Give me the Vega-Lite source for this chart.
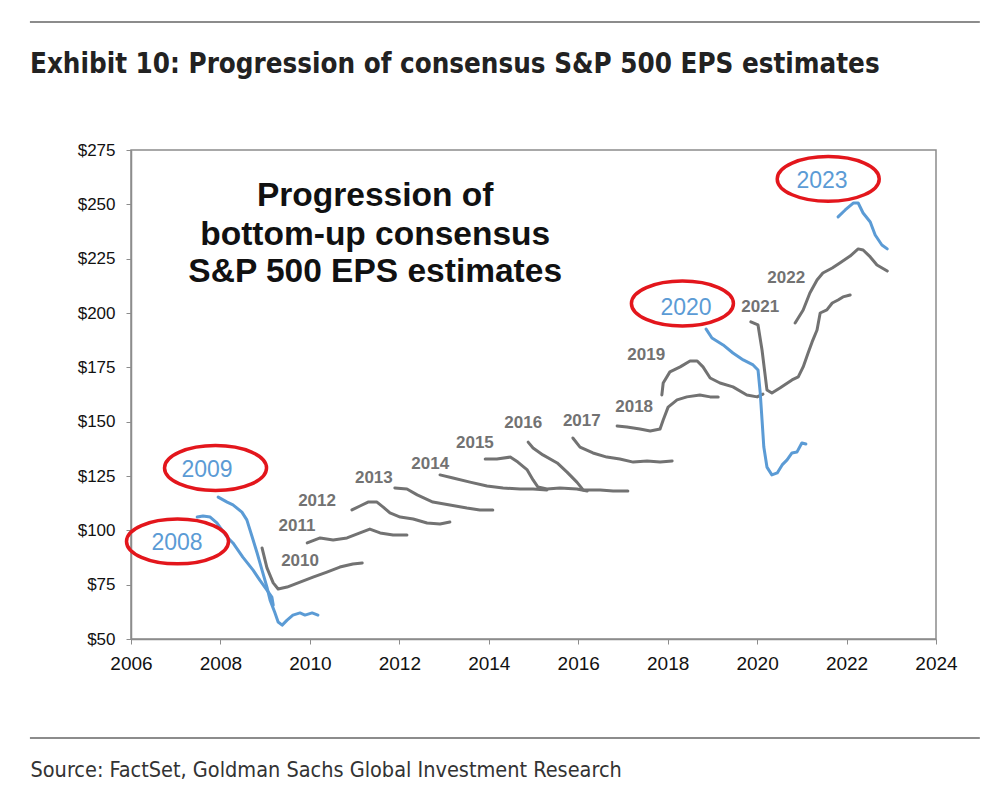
{
"$schema": "https://vega.github.io/schema/vega-lite/v6.json",
"width": 805, "height": 489,
"autosize": {"type": "none"},
"padding": {"left": 131, "top": 150, "right": 64, "bottom": 153},
"background": "white",
"config": {"view": {"stroke": "#8c8c8c", "strokeWidth": 1.5}, "font": "Liberation Sans"},
"title": {"text": "Exhibit 10: Progression of consensus S&P 500 EPS estimates", "anchor": "start", "frame": "group", "dx": -101, "offset": 61, "dy": 119, "font": "DejaVu Sans Condensed", "fontWeight": "bold", "fontSize": 27.5, "color": "#222222"},
"datasets": {
"lines": [
{"s":"2008","t":2007.48,"v":106.1},{"s":"2008","t":2007.61,"v":106.6},{"s":"2008","t":2007.77,"v":106.1},{"s":"2008","t":2007.92,"v":103.4},{"s":"2008","t":2008.15,"v":96.9},{"s":"2008","t":2008.28,"v":94.2},{"s":"2008","t":2008.50,"v":87.7},{"s":"2008","t":2008.73,"v":81.7},{"s":"2008","t":2008.88,"v":77.1},{"s":"2008","t":2009.04,"v":72.5},{"s":"2008","t":2009.15,"v":69.3},{"s":"2008","t":2009.18,"v":65.6},
{"s":"2009","t":2007.95,"v":115.3},{"s":"2009","t":2008.15,"v":113.0},{"s":"2009","t":2008.28,"v":111.7},{"s":"2009","t":2008.48,"v":108.4},{"s":"2009","t":2008.59,"v":104.8},{"s":"2009","t":2008.71,"v":96.9},{"s":"2009","t":2008.82,"v":89.6},{"s":"2009","t":2008.93,"v":81.7},{"s":"2009","t":2009.04,"v":73.9},{"s":"2009","t":2009.11,"v":67.9},{"s":"2009","t":2009.22,"v":62.0},{"s":"2009","t":2009.29,"v":57.8},{"s":"2009","t":2009.38,"v":56.4},{"s":"2009","t":2009.49,"v":58.7},{"s":"2009","t":2009.62,"v":61.0},{"s":"2009","t":2009.78,"v":62.0},{"s":"2009","t":2009.89,"v":61.0},{"s":"2009","t":2010.05,"v":62.0},{"s":"2009","t":2010.18,"v":61.0},
{"s":"2010","t":2008.93,"v":91.9},{"s":"2010","t":2009.04,"v":82.7},{"s":"2010","t":2009.18,"v":75.8},{"s":"2010","t":2009.29,"v":73.0},{"s":"2010","t":2009.49,"v":73.9},{"s":"2010","t":2009.78,"v":76.2},{"s":"2010","t":2010.07,"v":78.5},{"s":"2010","t":2010.38,"v":80.8},{"s":"2010","t":2010.67,"v":83.1},{"s":"2010","t":2010.96,"v":84.5},{"s":"2010","t":2011.17,"v":85.0},
{"s":"2011","t":2009.94,"v":94.2},{"s":"2011","t":2010.23,"v":96.5},{"s":"2011","t":2010.52,"v":95.6},{"s":"2011","t":2010.83,"v":96.5},{"s":"2011","t":2011.12,"v":98.8},{"s":"2011","t":2011.34,"v":100.6},{"s":"2011","t":2011.57,"v":98.8},{"s":"2011","t":2011.86,"v":97.9},{"s":"2011","t":2012.17,"v":97.9},
{"s":"2012","t":2010.94,"v":109.4},{"s":"2012","t":2011.12,"v":111.2},{"s":"2012","t":2011.30,"v":113.0},{"s":"2012","t":2011.50,"v":113.0},{"s":"2012","t":2011.64,"v":110.7},{"s":"2012","t":2011.79,"v":108.0},{"s":"2012","t":2012.02,"v":106.1},{"s":"2012","t":2012.31,"v":105.2},{"s":"2012","t":2012.62,"v":103.4},{"s":"2012","t":2012.91,"v":102.9},{"s":"2012","t":2013.13,"v":103.8},
{"s":"2013","t":2011.90,"v":119.5},{"s":"2013","t":2012.17,"v":119.0},{"s":"2013","t":2012.40,"v":116.3},{"s":"2013","t":2012.75,"v":113.0},{"s":"2013","t":2013.13,"v":111.7},{"s":"2013","t":2013.51,"v":110.3},{"s":"2013","t":2013.80,"v":109.4},{"s":"2013","t":2014.09,"v":109.4},
{"s":"2014","t":2012.91,"v":125.5},{"s":"2014","t":2013.20,"v":124.1},{"s":"2014","t":2013.58,"v":122.2},{"s":"2014","t":2013.96,"v":120.4},{"s":"2014","t":2014.32,"v":119.5},{"s":"2014","t":2014.70,"v":119.0},{"s":"2014","t":2014.99,"v":119.0},{"s":"2014","t":2015.30,"v":118.6},
{"s":"2015","t":2013.92,"v":132.8},{"s":"2015","t":2014.18,"v":132.8},{"s":"2015","t":2014.48,"v":133.7},{"s":"2015","t":2014.65,"v":131.4},{"s":"2015","t":2014.86,"v":127.8},{"s":"2015","t":2014.99,"v":123.2},{"s":"2015","t":2015.10,"v":119.9},{"s":"2015","t":2015.30,"v":119.0},{"s":"2015","t":2015.59,"v":119.5},{"s":"2015","t":2015.97,"v":119.0},{"s":"2015","t":2016.20,"v":118.1},
{"s":"2016","t":2014.88,"v":140.6},{"s":"2016","t":2014.99,"v":137.9},{"s":"2016","t":2015.21,"v":134.7},{"s":"2016","t":2015.53,"v":131.0},{"s":"2016","t":2015.75,"v":126.8},{"s":"2016","t":2015.97,"v":122.2},{"s":"2016","t":2016.11,"v":118.6},{"s":"2016","t":2016.49,"v":118.6},{"s":"2016","t":2016.78,"v":118.1},{"s":"2016","t":2017.11,"v":118.1},
{"s":"2017","t":2015.88,"v":142.5},{"s":"2017","t":2016.04,"v":138.3},{"s":"2017","t":2016.33,"v":135.6},{"s":"2017","t":2016.64,"v":133.7},{"s":"2017","t":2016.93,"v":132.8},{"s":"2017","t":2017.23,"v":131.4},{"s":"2017","t":2017.54,"v":131.9},{"s":"2017","t":2017.83,"v":131.4},{"s":"2017","t":2018.10,"v":131.9},
{"s":"2018","t":2016.87,"v":148.0},{"s":"2018","t":2017.09,"v":147.5},{"s":"2018","t":2017.38,"v":146.6},{"s":"2018","t":2017.61,"v":145.7},{"s":"2018","t":2017.83,"v":146.6},{"s":"2018","t":2017.90,"v":150.8},{"s":"2018","t":2018.01,"v":156.7},{"s":"2018","t":2018.21,"v":160.0},{"s":"2018","t":2018.43,"v":161.4},{"s":"2018","t":2018.72,"v":162.3},{"s":"2018","t":2018.95,"v":161.4},{"s":"2018","t":2019.13,"v":161.4},
{"s":"2019","t":2017.87,"v":162.3},{"s":"2019","t":2017.90,"v":167.8},{"s":"2019","t":2018.05,"v":172.9},{"s":"2019","t":2018.28,"v":175.2},{"s":"2019","t":2018.50,"v":177.9},{"s":"2019","t":2018.66,"v":177.9},{"s":"2019","t":2018.79,"v":175.2},{"s":"2019","t":2018.95,"v":170.1},{"s":"2019","t":2019.17,"v":167.8},{"s":"2019","t":2019.46,"v":166.0},{"s":"2019","t":2019.77,"v":162.3},{"s":"2019","t":2020.00,"v":161.4},{"s":"2019","t":2020.13,"v":162.7},
{"s":"2021","t":2019.86,"v":195.9},{"s":"2021","t":2020.02,"v":194.5},{"s":"2021","t":2020.11,"v":183.0},{"s":"2021","t":2020.22,"v":164.6},{"s":"2021","t":2020.33,"v":163.2},{"s":"2021","t":2020.51,"v":165.5},{"s":"2021","t":2020.78,"v":169.2},{"s":"2021","t":2020.92,"v":170.6},{"s":"2021","t":2021.03,"v":175.2},{"s":"2021","t":2021.14,"v":181.6},{"s":"2021","t":2021.23,"v":186.7},{"s":"2021","t":2021.34,"v":192.2},{"s":"2021","t":2021.41,"v":200.0},{"s":"2021","t":2021.56,"v":201.4},{"s":"2021","t":2021.68,"v":204.6},{"s":"2021","t":2021.81,"v":206.0},{"s":"2021","t":2021.92,"v":207.4},{"s":"2021","t":2022.08,"v":208.3},
{"s":"2022","t":2020.85,"v":195.4},{"s":"2022","t":2021.03,"v":201.4},{"s":"2022","t":2021.18,"v":209.2},{"s":"2022","t":2021.34,"v":215.2},{"s":"2022","t":2021.47,"v":218.4},{"s":"2022","t":2021.68,"v":220.7},{"s":"2022","t":2021.85,"v":223.0},{"s":"2022","t":2022.08,"v":226.2},{"s":"2022","t":2022.26,"v":229.5},{"s":"2022","t":2022.37,"v":229.0},{"s":"2022","t":2022.53,"v":225.8},{"s":"2022","t":2022.68,"v":222.1},{"s":"2022","t":2022.91,"v":219.3},
{"s":"2020","t":2018.86,"v":192.6},{"s":"2020","t":2018.99,"v":188.5},{"s":"2020","t":2019.24,"v":185.3},{"s":"2020","t":2019.46,"v":181.6},{"s":"2020","t":2019.69,"v":178.4},{"s":"2020","t":2019.91,"v":176.1},{"s":"2020","t":2020.02,"v":173.8},{"s":"2020","t":2020.07,"v":163.2},{"s":"2020","t":2020.11,"v":150.8},{"s":"2020","t":2020.15,"v":138.3},{"s":"2020","t":2020.22,"v":129.1},{"s":"2020","t":2020.33,"v":125.5},{"s":"2020","t":2020.45,"v":126.4},{"s":"2020","t":2020.56,"v":130.1},{"s":"2020","t":2020.67,"v":132.4},{"s":"2020","t":2020.78,"v":135.6},{"s":"2020","t":2020.89,"v":136.0},{"s":"2020","t":2021.00,"v":140.2},{"s":"2020","t":2021.09,"v":139.7},
{"s":"2023","t":2021.81,"v":244.2},{"s":"2023","t":2021.97,"v":247.4},{"s":"2023","t":2022.15,"v":250.6},{"s":"2023","t":2022.26,"v":250.6},{"s":"2023","t":2022.37,"v":246.0},{"s":"2023","t":2022.53,"v":241.9},{"s":"2023","t":2022.64,"v":235.9},{"s":"2023","t":2022.79,"v":231.3},{"s":"2023","t":2022.91,"v":229.5}
],
"grayLabels": [
{"label":"2010","t":2009.78,"v":85.9},{"label":"2011","t":2009.71,"v":102.0},{"label":"2012","t":2010.16,"v":113.5},{"label":"2013","t":2011.43,"v":124.1},{"label":"2014","t":2012.69,"v":130.5},{"label":"2015","t":2013.69,"v":140.2},{"label":"2016","t":2014.77,"v":149.4},{"label":"2017","t":2016.08,"v":150.3},{"label":"2018","t":2017.25,"v":156.7},{"label":"2019","t":2017.52,"v":180.7},{"label":"2021","t":2020.07,"v":202.8},{"label":"2022","t":2020.65,"v":216.1}
],
"blueLabels": [
{"label":"2008","t":2007.03,"v":94.2},{"label":"2009","t":2007.70,"v":127.8},{"label":"2020","t":2018.41,"v":202.3},{"label":"2023","t":2021.45,"v":260.7}
],
"ellipses": [
{"label":"2008","t":2007.04,"v":94.9},{"label":"2009","t":2007.89,"v":128.7},{"label":"2020","t":2018.33,"v":204.4},{"label":"2023","t":2021.59,"v":261.7}
],
"note": [
{"line":"Progression of","t":2011.46,"v":253.8},{"line":"bottom-up consensus","t":2011.46,"v":235.9},{"line":"S&P 500 EPS estimates","t":2011.46,"v":218.9}
],
"frameRules": [
{"edge":"top"},{"edge":"bottom"}
]
},
"layer": [
{"data": {"name": "lines"},
 "mark": {"type": "line", "strokeWidth": 3, "strokeJoin": "round", "strokeCap": "round"},
 "encoding": {
 "x": {"field": "t", "type": "quantitative", "scale": {"domain": [2006, 2024], "nice": false, "zero": false},
  "axis": {"values": [2006,2008,2010,2012,2014,2016,2018,2020,2022,2024], "format": "d", "grid": false, "labelFlush": false, "domainColor": "#8c8c8c", "domainWidth": 1.5, "tickColor": "#8c8c8c", "tickSize": 5, "labelFontSize": 19, "labelColor": "#111111", "labelPadding": 10, "labelFont": "Liberation Sans",
   "title": "Source: FactSet, Goldman Sachs Global Investment Research", "titleAnchor": "start", "titleAlign": "left", "titleX": -101, "titleY": 131, "titleBaseline": "middle", "titleFont": "DejaVu Sans Condensed", "titleFontWeight": "normal", "titleFontSize": 21.5, "titleColor": "#333333"}},
 "y": {"field": "v", "type": "quantitative", "scale": {"domain": [50, 275], "nice": false, "zero": false},
  "axis": {"values": [50,75,100,125,150,175,200,225,250,275], "format": "$d", "grid": false, "labelFlush": false, "domainColor": "#8c8c8c", "domainWidth": 1.5, "tickColor": "#8c8c8c", "tickSize": 5, "labelFontSize": 17, "labelColor": "#111111", "labelPadding": 11, "labelFont": "Liberation Sans", "title": null}},
 "color": {"field": "s", "type": "nominal", "legend": null,
  "scale": {"domain": ["2008","2009","2010","2011","2012","2013","2014","2015","2016","2017","2018","2019","2020","2021","2022","2023"],
   "range": ["#5b9bd5","#5b9bd5","#727272","#727272","#727272","#727272","#727272","#727272","#727272","#727272","#727272","#727272","#5b9bd5","#727272","#727272","#5b9bd5"]}}}},
{"data": {"name": "frameRules"}, "transform": [{"filter": "datum.edge === 'top'"}],
 "mark": {"type": "rule", "clip": false, "color": "#8c8c8c", "strokeWidth": 2},
 "encoding": {"x": {"datum": 2003.74, "type": "quantitative"}, "x2": {"datum": 2024.98}, "y": {"datum": 333.9, "type": "quantitative"}}},
{"data": {"name": "frameRules"}, "transform": [{"filter": "datum.edge === 'bottom'"}],
 "mark": {"type": "rule", "clip": false, "color": "#8c8c8c", "strokeWidth": 2},
 "encoding": {"x": {"datum": 2003.74, "type": "quantitative"}, "x2": {"datum": 2024.98}, "y": {"datum": 4.45, "type": "quantitative"}}},
{"data": {"name": "ellipses"}, "mark": {"type": "point", "filled": false, "stroke": "#e3161c", "strokeWidth": 3.5, "clip": false,
  "shape": "M -1 0 C -1 -0.243 -0.552 -0.44 0 -0.44 C 0.552 -0.44 1 -0.243 1 0 C 1 0.243 0.552 0.44 0 0.44 C -0.552 0.44 -1 0.243 -1 0 Z", "size": 10404, "opacity": 1},
 "encoding": {"x": {"field": "t", "type": "quantitative"}, "y": {"field": "v", "type": "quantitative"}}},
{"data": {"name": "grayLabels"}, "mark": {"type": "text", "font": "Liberation Sans", "fontWeight": "bold", "fontSize": 17, "color": "#727272", "align": "center", "baseline": "middle"},
 "encoding": {"x": {"field": "t", "type": "quantitative"}, "y": {"field": "v", "type": "quantitative"}, "text": {"field": "label"}}},
{"data": {"name": "blueLabels"}, "mark": {"type": "text", "font": "Liberation Sans", "fontSize": 23, "color": "#5b9bd5", "align": "center", "baseline": "middle"},
 "encoding": {"x": {"field": "t", "type": "quantitative"}, "y": {"field": "v", "type": "quantitative"}, "text": {"field": "label"}}},
{"data": {"name": "note"}, "mark": {"type": "text", "font": "Liberation Sans", "fontWeight": "bold", "fontSize": 33.5, "color": "#111111", "align": "center", "baseline": "middle"},
 "encoding": {"x": {"field": "t", "type": "quantitative"}, "y": {"field": "v", "type": "quantitative"}, "text": {"field": "line"}}}
]
}
